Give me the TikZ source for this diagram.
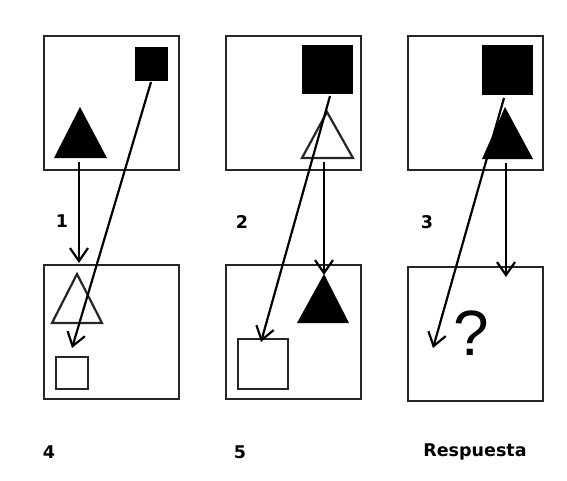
\documentclass[tikz,border=0pt]{standalone}
\usepackage{fontspec}
\newfontfamily\labfont{DejaVu Sans}
\newfontfamily\qfont{Liberation Sans}
\usetikzlibrary{arrows.meta}
\tikzset{
  panel/.style={draw=black!85, line width=2pt, minimum width=135pt, minimum height=134pt, inner sep=0pt, anchor=north west},
  fillsq/.style={fill=black, inner sep=0pt, anchor=north west},
  hollowsq/.style={draw=black!85, line width=2.2pt, inner sep=0pt, anchor=north west},
  filltri/.style={fill=black},
  hollowtri/.style={draw=black!85, line width=2.2pt, line join=miter},
  conn/.style={line width=2.2pt, -{Straight Barb[length=13pt,width=18pt,line width=2.2pt]}},
  lab/.style={font=\labfont\bfseries\fontsize{17.5}{19}\selectfont, inner sep=0pt},
}
\begin{document}
\begin{tikzpicture}[x=1pt,y=-1pt]
\useasboundingbox (0,0) rectangle (567,480);
\fill[white] (0,0) rectangle (567,480);

% panels
\node[panel] (p1t) at (43,35) {};
\node[panel] (p1b) at (43,264) {};
\node[panel] (p2t) at (225,35) {};
\node[panel] (p2b) at (225,264) {};
\node[panel] (p3t) at (407,35) {};
\node[panel] (p3b) at (407,266) {};

% panel 1
\node[fillsq, minimum width=33pt, minimum height=34pt] (sq1) at (135,47) {};
\fill[filltri] (80,107) -- (107,158) -- (54,158) -- cycle;
\coordinate (t1s) at (79,162);
\draw[hollowtri] (77,274) -- (102,323) -- (52,323) -- cycle;
\node[hollowsq, minimum width=32pt, minimum height=32pt] (hs1) at (55,356) {};
\coordinate (e1a) at (79,263);
\coordinate (e1b) at (72,348);
\coordinate (s1s) at (151,82);
\draw[conn] (t1s) -- (e1a);
\draw[conn] (s1s) -- (e1b);

% panel 2
\node[fillsq, minimum width=51pt, minimum height=49pt] (sq2) at (302,45) {};
\draw[hollowtri] (327,112) -- (353,158) -- (302,158) -- cycle;
\fill[filltri] (324,274) -- (349,323) -- (297,323) -- cycle;
\node[hollowsq, minimum width=50pt, minimum height=50pt] (hs2) at (237,338) {};
\coordinate (s2s) at (330,96);
\coordinate (e2a) at (261,342);
\coordinate (t2s) at (324,162);
\coordinate (e2b) at (324,275);
\draw[conn] (s2s) -- (e2a);
\draw[conn] (t2s) -- (e2b);

% panel 3
\node[fillsq, minimum width=51pt, minimum height=50pt] (sq3) at (482,45) {};
\coordinate (s3s) at (504,98);
\coordinate (e3a) at (433,348);
\coordinate (t3s) at (506,163);
\coordinate (e3b) at (506,277);
\draw[conn] (s3s) -- (e3a);
\fill[filltri] (505,107) -- (533,159) -- (482,159) -- cycle;
\draw[conn] (t3s) -- (e3b);
\node[font=\qfont\fontsize{64}{64}\selectfont, inner sep=0pt] (q) at (471,333) {?};

% labels
\node[lab] (l1) at (62,221) {1};
\node[lab] (l2) at (242,222) {2};
\node[lab] (l3) at (427,222) {3};
\node[lab] (l4) at (49,452) {4};
\node[lab] (l5) at (240,452) {5};
\node[lab] (l6) at (475,452) {Respuesta};
\end{tikzpicture}
\end{document}
